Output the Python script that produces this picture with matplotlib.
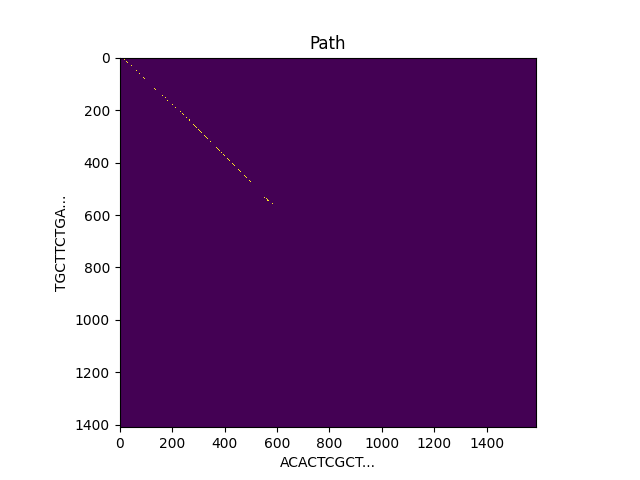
import numpy as np
import matplotlib
matplotlib.use("Agg")
import matplotlib.pyplot as plt

# size of the alignment matrix (rows = sequence on y, cols = sequence on x)
n_rows = 1410
n_cols = 1590

seq_x_label = "ACACTCGCT..."
seq_y_label = "TGCTTCTGA..."

# visible path cells
path_cols = [18, 26, 30, 45, 64, 75, 91, 94, 133, 136, 163, 175, 182, 201, 213,
             232, 239, 243, 255, 266, 266, 281, 285, 289, 293, 300, 304, 308, 312,
             323, 327, 331, 335, 346, 369, 373, 377, 381, 388, 396, 400, 411, 415,
             419, 430, 434, 438, 453, 457, 461, 476, 480, 484, 495, 499, 552, 560,
             564, 568, 583]
path_rows = [11, 18, 22, 33, 53, 64, 79, 83, 121, 125, 148, 156, 167, 182, 194,
             209, 217, 220, 232, 240, 243, 259, 262, 266, 270, 278, 281, 285, 289,
             300, 304, 308, 312, 323, 346, 350, 354, 358, 365, 373, 377, 388, 392,
             396, 407, 411, 415, 430, 434, 438, 453, 457, 461, 472, 476, 537, 541,
             545, 548, 560]

mat = np.zeros((n_rows, n_cols))
# each path cell marked as a small block so it survives the downsampling
for r, c in zip(path_rows, path_cols):
    mat[r - 2:r + 2, c - 2:c + 2] = 1

fig, ax = plt.subplots(figsize=(6.4, 4.8), dpi=100)
ax.imshow(mat, cmap="viridis", interpolation="nearest")
ax.set_title("Path")
ax.set_xlabel(seq_x_label)
ax.set_ylabel(seq_y_label)

fig.savefig("out.png")
